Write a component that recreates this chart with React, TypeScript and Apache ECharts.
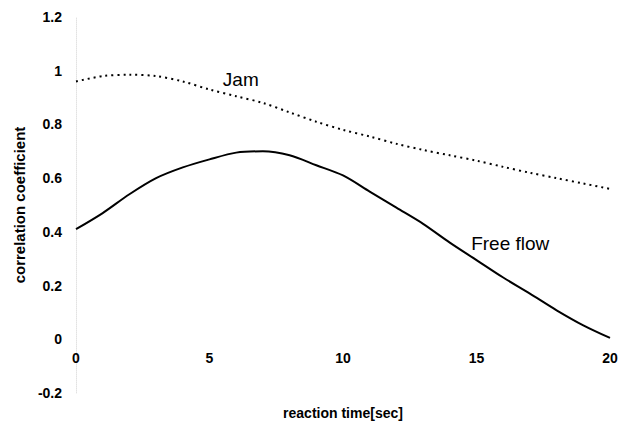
import React, { useEffect, useRef } from "react";
import * as echarts from "echarts";

const times = [0, 1, 2, 3, 4, 5, 6, 7, 8, 9, 10, 11, 12, 13, 14, 15, 16, 17, 18, 19, 20];
const jamValues = [0.96, 0.98, 0.985, 0.98, 0.96, 0.93, 0.905, 0.88, 0.845, 0.81, 0.78, 0.755, 0.728, 0.705, 0.685, 0.665, 0.642, 0.62, 0.6, 0.58, 0.56];
const freeFlowValues = [0.41, 0.47, 0.54, 0.6, 0.64, 0.67, 0.695, 0.7, 0.685, 0.648, 0.61, 0.55, 0.49, 0.43, 0.36, 0.295, 0.23, 0.17, 0.108, 0.052, 0.005];
const jamLabel = { text: "Jam", t: 5.5, v: 0.968 };
const freeLabel = { text: "Free flow", t: 14.8, v: 0.357 };
const xName = "reaction time[sec]";
const yName = "correlation coefficient";

export default function App() {
  const ref = useRef<HTMLDivElement>(null);
  useEffect(() => {
    document.body.style.margin = "0";
    const chart = echarts.init(ref.current!, undefined, { renderer: "svg" });
    const font = "'Liberation Sans', Arial, sans-serif";
    const mkLabel = (l: { text: string; t: number; v: number }) => ({
      coord: [l.t, l.v],
      symbol: "circle",
      symbolSize: 0,
      label: {
        show: true,
        formatter: l.text,
        position: [0, 0],
        align: "left",
        verticalAlign: "middle",
        color: "#000",
        fontSize: 19,
        fontFamily: font,
      },
    });
    chart.setOption({
      animation: false,
      backgroundColor: "#fff",
      grid: { left: 76, right: 9, top: 17, bottom: 32, containLabel: false, outerBoundsMode: "none" },
      xAxis: {
        type: "value",
        min: 0,
        max: 20,
        interval: 5,
        position: "bottom",
        offset: -54,
        axisLine: { show: false, onZero: false },
        axisTick: { show: false },
        splitLine: { show: false },
        axisLabel: { margin: 12, color: "#000", fontSize: 14, fontWeight: "bold", fontFamily: font },
        name: xName,
        nameLocation: "middle",
        nameGap: 67,
        nameTextStyle: { color: "#000", fontSize: 14, fontWeight: "bold", fontFamily: font },
      },
      yAxis: {
        type: "value",
        min: -0.2,
        max: 1.2,
        interval: 0.2,
        axisLine: { show: true, onZero: false, lineStyle: { color: "#e2e2e2", type: "dotted", width: 1 } },
        axisTick: { show: false },
        splitLine: { show: false },
        axisLabel: {
          margin: 14,
          color: "#000",
          fontSize: 14,
          fontWeight: "bold",
          fontFamily: font,
          formatter: (v: number) => String(Math.round(v * 10) / 10),
        },
        name: yName,
        nameLocation: "middle",
        nameGap: 48,
        nameTextStyle: { color: "#000", fontSize: 15, fontWeight: "bold", fontFamily: font },
      },
      series: [
        {
          name: "Jam",
          type: "line",
          data: times.map((t, i) => [t, jamValues[i]]),
          smooth: 0.3,
          showSymbol: false,
          lineStyle: { color: "#000", width: 2, type: [2, 4] },
          markPoint: { silent: true, data: [mkLabel(jamLabel)] },
        },
        {
          name: "Free flow",
          type: "line",
          data: times.map((t, i) => [t, freeFlowValues[i]]),
          smooth: 0.3,
          showSymbol: false,
          lineStyle: { color: "#000", width: 2 },
          markPoint: { silent: true, data: [mkLabel(freeLabel)] },
        },
      ],
    });
    return () => chart.dispose();
  }, []);
  return <div ref={ref} style={{ width: 619, height: 425 }} />;
}
